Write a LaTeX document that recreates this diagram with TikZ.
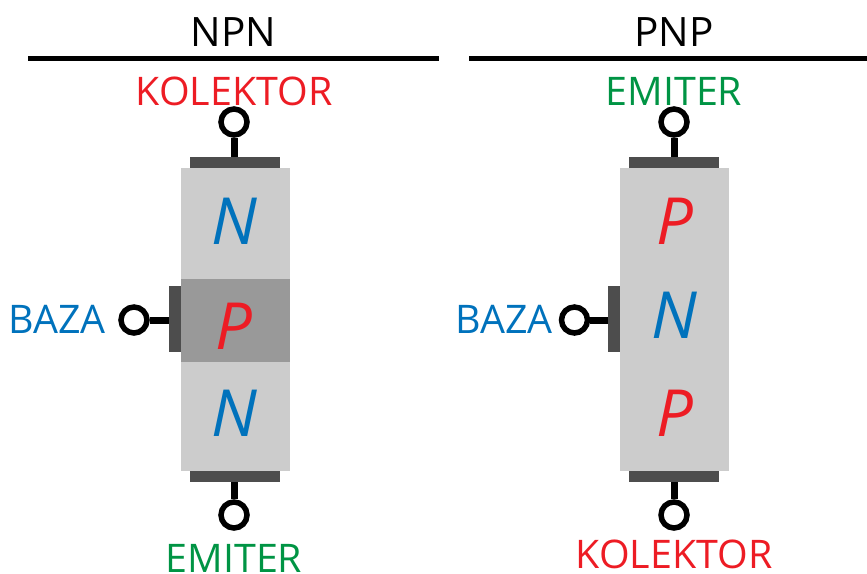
\documentclass[tikz,border=0pt]{standalone}
\usepackage{fontspec}
\setmainfont{Open Sans}
\usepackage{xcolor}
\usetikzlibrary{positioning}
\definecolor{kolektorred}{HTML}{ED1C24}
\definecolor{emitergreen}{HTML}{009444}
\definecolor{bazablue}{HTML}{0072BC}
\definecolor{layergray}{HTML}{CCCCCC}
\definecolor{basegray}{HTML}{999999}
\definecolor{plategray}{HTML}{4D4D4D}
\tikzset{
    layer/.style={
        rectangle,
        fill=layergray,
        inner sep=0pt,
        minimum width=109pt
    },
    letter/.style={
        inner sep=0pt,
        font=\fontsize{65}{65}\selectfont\itshape
    },
    hplate/.style={
        rectangle,
        fill=plategray,
        inner sep=0pt,
        minimum width=90pt,
        minimum height=10.5pt
    },
    vplate/.style={
        rectangle,
        fill=plategray,
        inner sep=0pt,
        minimum width=12pt,
        minimum height=66pt
    },
    terminal/.style={
        circle,
        draw=black,
        line width=5.5pt,
        fill=white,
        inner sep=0pt,
        minimum size=26pt
    },
    lead/.style={
        draw=black,
        line width=7pt
    },
    heading/.style={
        inner sep=0pt,
        text=black,
        font=\fontsize{40.5}{40.5}\selectfont
    },
    pinlabel/.style={
        inner sep=0pt,
        font=\fontsize{39.4}{39.4}\selectfont
    },
    headrule/.style={
        draw=black,
        line width=5pt
    }
}
\begin{document}
\begin{tikzpicture}[x=1pt,y=-1pt]
\useasboundingbox (0,0) rectangle (867,573);

% NPN
\node[heading, anchor=base] (npn) at (233.5,46) {NPN};
\coordinate (npnl) at (28,58);
\coordinate (npnr) at (439,58);
\draw[headrule] (npnl) -- (npnr);

\node[layer, minimum height=303pt] (n1) at (235.5,319.5) {};
\node[layer, fill=basegray, minimum height=83pt] (p1) at (235.5,320.5) {};
\node[letter, text=bazablue] (ln1) at (234,221) {N};
\node[letter, text=kolektorred] (lp1) at (234,326) {P};
\node[letter, text=bazablue] (ln2) at (234,413) {N};

\node[hplate, above=0pt of n1, xshift=-1pt] (ptop1) {};
\node[hplate, below=0pt of n1, xshift=-1pt] (pbot1) {};
\node[vplate] (pbase1) at (175,319) {};

\node[terminal] (tc1) at (234,122) {};
\node[terminal] (te1) at (234,515) {};
\node[terminal] (tb1) at (134,320) {};
\draw[lead] (tc1) -- (tc1|-ptop1.north);
\draw[lead] (te1) -- (te1|-pbot1.south);
\draw[lead] (tb1) -- (tb1-|pbase1.west);

\node[pinlabel, anchor=base, text=kolektorred] (kol1) at (234,105) {KOLEKTOR};
\node[pinlabel, anchor=base, text=emitergreen] (emi1) at (234,572) {EMITER};
\node[pinlabel, anchor=base, text=bazablue] (baz1) at (57,333) {BAZA};

% PNP
\node[heading, anchor=base] (pnp) at (674,46) {PNP};
\coordinate (pnpl) at (469,58);
\coordinate (pnpr) at (867,58);
\draw[headrule] (pnpl) -- (pnpr);

\node[layer, minimum height=303pt] (body) at (674.5,319.5) {};
\node[letter, text=kolektorred] (lp2) at (675,221) {P};
\node[letter, text=bazablue] (ln3) at (674,315) {N};
\node[letter, text=kolektorred] (lp3) at (675,413) {P};

\node[hplate, above=0pt of body, xshift=-1pt] (ptop2) {};
\node[hplate, below=0pt of body, xshift=-1pt] (pbot2) {};
\node[vplate] (pbase2) at (614,319) {};

\node[terminal] (te2) at (674,122) {};
\node[terminal] (tc2) at (674,515) {};
\node[terminal] (tb2) at (574.5,320) {};
\draw[lead] (te2) -- (te2|-ptop2.north);
\draw[lead] (tc2) -- (tc2|-pbot2.south);
\draw[lead] (tb2) -- (tb2-|pbase2.west);

\node[pinlabel, anchor=base, text=emitergreen] (emi2) at (674,105) {EMITER};
\node[pinlabel, anchor=base, text=kolektorred] (kol2) at (674,568) {KOLEKTOR};
\node[pinlabel, anchor=base, text=bazablue] (baz2) at (504,333) {BAZA};

\end{tikzpicture}
\end{document}
